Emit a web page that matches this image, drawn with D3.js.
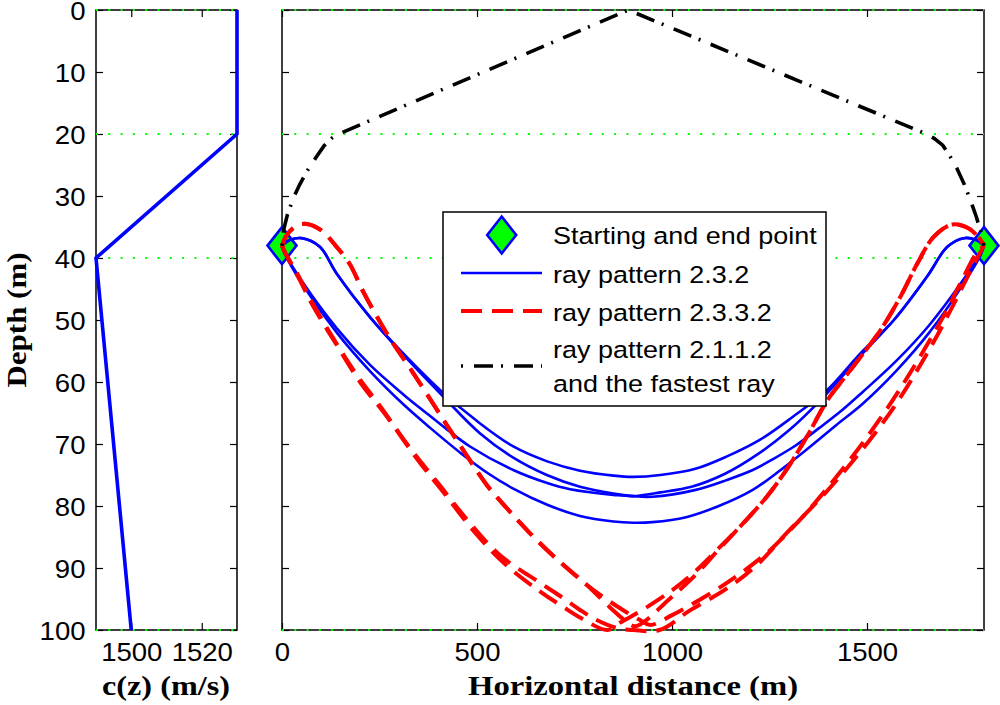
<!DOCTYPE html>
<html lang="en">
<head>
<meta charset="utf-8">
<title>Ray patterns</title>
<style>
  body { margin: 0; background: #fff; }
  svg { display: block; }
</style>
</head>
<body>
<svg id="chart" width="1000" height="705"></svg>
<script src="https://d3js.org/d3.v7.min.js"></script>
<script>

  // ---- data ----
  const depthTicks = [0, 10, 20, 30, 40, 50, 60, 70, 80, 90, 100];
  const speedTicks = [1500, 1520];
  const distTicks = [0, 500, 1000, 1500];
  const layerDepths = [0, 20, 40, 100];

  // sound speed profile c(z)
  const profileSpeed = [1530, 1530, 1490, 1500];
  const profileDepth = [0, 20, 40, 100];

  // source / receiver, [distance, depth]
  const endPoints = [[0, 38], [1800, 38]];

  // ray pattern 2.3.2 (blue, solid)
  const blueRays = [
    [[0,38],[20,37.1],[50,36.8],[97,38.2],[140,42.5],[225,49.5],[311,55.4],[414,61.8],[500,66.3],[593,70.4],[680,72.8],[764,74.3],[850,75.1],[900,75.3],[970,75.0],[1060,74.0],[1141,72.0],[1226,69.3],[1310,65.6],[1398,61.3],[1483,55.4],[1569,50.0],[1654,43.0],[1706,38.2],[1748,36.8],[1780,37.1],[1800,38]],
    [[0,38],[20,37.1],[50,36.8],[97,38.2],[140,42.5],[225,49.5],[311,55.6],[414,62.4],[508,68.3],[593,72.2],[679,75.0],[764,76.9],[850,78.0],[900,78.4],[950,78.5],[1061,77.4],[1141,75.8],[1207,74.2],[1260,72.4],[1318,70.2],[1378,67.4],[1435,64.6],[1489,61.6],[1575,56.6],[1660,50.8],[1746,43.6],[1793,39.0],[1800,38]],
    [[0,38],[7,39.2],[54,44.0],[140,51.3],[225,57.2],[311,62.0],[370,65.0],[422,67.6],[482,70.4],[593,74.2],[680,76.3],[739,77.3],[850,78.2],[900,78.4],[970,77.8],[1050,76.9],[1136,74.8],[1221,71.6],[1300,67.8],[1386,62.6],[1483,55.8],[1569,50.0],[1654,43.0],[1706,38.2],[1748,36.8],[1780,37.1],[1800,38]],
    [[0,38],[7,39.3],[54,44.4],[140,52.0],[225,58.2],[311,63.6],[380,67.4],[461,71.6],[530,74.8],[593,77.2],[680,79.8],[764,81.6],[850,82.5],[900,82.7],[950,82.6],[1036,81.8],[1120,80.0],[1207,77.4],[1270,74.6],[1339,71.2],[1420,67.0],[1489,63.5],[1575,58.2],[1660,52.0],[1746,44.3],[1793,39.3],[1800,38]]
  ];

  // ray pattern 2.3.3.2 (red, dashed)
  const redRays = [
    [[0,38],[12,36.3],[35,34.9],[63,34.5],[100,35.5],[140,38.2],[174,41.0],[208,45.4],[268,52.1],[337,58.6],[414,66.1],[470,71.5],[525,76.6],[580,80.6],[636,84.4],[700,88.3],[781,92.7],[840,96.3],[880,98.5],[905,99.4],[930,98.6],[990,95.2],[1056,91.4],[1120,87.0],[1175,83.3],[1243,78.5],[1295,74.0],[1346,68.8],[1398,63.0],[1440,59.5],[1483,56.0],[1535,51.6],[1586,46.2],[1629,40.9],[1671,36.6],[1718,34.6],[1760,35.2],[1788,36.8],[1800,38]],
    [[0,38],[12,36.3],[35,34.9],[63,34.5],[100,35.5],[140,38.2],[174,41.0],[208,45.4],[268,52.1],[337,58.6],[414,66.1],[470,71.5],[525,76.6],[580,80.6],[636,84.4],[700,88.3],[781,92.7],[867,96.5],[918,98.4],[944,99.2],[1000,97.6],[1106,93.8],[1175,90.9],[1250,87.2],[1312,83.3],[1365,79.6],[1415,75.8],[1475,71.0],[1535,65.8],[1586,61.0],[1637,55.8],[1697,49.3],[1740,44.0],[1783,39.0],[1800,38]],
    [[0,38],[10,39.4],[46,43.6],[80,47.8],[140,54.0],[200,60.0],[268,65.5],[345,72.3],[414,77.8],[499,84.6],[576,89.6],[662,93.8],[719,96.2],[770,98.2],[835,100],[870,98.7],[918,97.0],[1000,93.6],[1064,90.3],[1120,86.8],[1175,83.3],[1243,78.5],[1295,74.0],[1346,68.8],[1398,63.0],[1440,59.5],[1483,56.0],[1535,51.6],[1586,46.2],[1629,40.9],[1671,36.6],[1718,34.6],[1760,35.2],[1788,36.8],[1800,38]],
    [[0,38],[5,38.8],[40,42.6],[75,46.9],[130,52.8],[190,58.7],[255,64.2],[330,70.8],[400,76.3],[480,82.6],[560,88.0],[662,92.4],[720,94.8],[770,97.0],[807,98.4],[859,99.7],[901,100],[968,100],[1047,96.8],[1141,93.3],[1218,89.5],[1295,84.3],[1380,78.8],[1450,73.8],[1520,68.3],[1575,63.5],[1625,58.5],[1680,52.5],[1730,46.5],[1770,41.5],[1800,38]]
  ];

  // ray pattern 2.1.1.2, the fastest ray (black, dash-dot)
  const blackRay = [[0,38],[4,35.5],[14,33.0],[28,30.5],[45,28.2],[65,25.9],[87,23.8],[108,21.9],[127,20.7],[145,20],[888,0],[1652,20],[1672,20.7],[1694,21.8],[1712,23.5],[1731,25.6],[1750,28.2],[1766,30.8],[1780,33.3],[1792,35.8],[1800,38]];

  const legendLabels = [
    ["Starting and end point"],
    ["ray pattern 2.3.2"],
    ["ray pattern 2.3.3.2"],
    ["ray pattern 2.1.1.2", "and the fastest ray"]
  ];

  // ---- layout ----
  const plotTop = 10, plotBottom = 630;
  const sansFont = "'Liberation Sans', Arial, sans-serif";
  const serifFont = "'Liberation Serif', 'Times New Roman', serif";
  const redDash = "21,10";
  const blackDash = "2,11,19,8";

  const svg = d3.select("#chart");
  svg.append("rect").attr("width", 1000).attr("height", 705).attr("fill", "#fff");

  const y = d3.scaleLinear().domain([0, 100]).range([plotTop, plotBottom]);
  const xSpeed = d3.scaleLinear().domain([1490, 1530]).range([96, 237]);
  const xDist = d3.scaleLinear().domain([0, 1800]).range([282, 984]);

  // glyphs in the figure are a bit wider than the fonts we have
  function stretch(sel, k) {
    sel.each(function () {
      const w = this.getComputedTextLength();
      if (w > 0) d3.select(this).attr("textLength", w * k).attr("lengthAdjust", "spacingAndGlyphs");
    });
  }

  function styleAxis(g) {
    g.select(".domain").remove();
    g.selectAll("line").attr("stroke", "#000").attr("stroke-width", 1.2);
    g.attr("font-family", sansFont).attr("font-size", 25.5);
    g.selectAll("text").attr("fill", "#000");
  }

  function panel(xScale, xTicks, yLabels) {
    const [x0, x1] = xScale.range();
    const g = svg.append("g");

    g.append("g").attr("transform", `translate(${x0},0)`)
      .call(d3.axisLeft(y).tickValues(depthTicks).tickSizeInner(-7).tickSizeOuter(0)
        .tickPadding(10.5).tickFormat(yLabels ? d3.format("d") : ""))
      .call(styleAxis)
      .selectAll("text").attr("dy", "0.39em");
    g.append("g").attr("transform", `translate(${x1},0)`)
      .call(d3.axisRight(y).tickValues(depthTicks).tickSizeInner(-7).tickSizeOuter(0).tickFormat(""))
      .call(styleAxis);
    g.append("g").attr("transform", `translate(0,${plotBottom})`)
      .call(d3.axisBottom(xScale).tickValues(xTicks).tickSizeInner(-7).tickSizeOuter(0)
        .tickPadding(13).tickFormat(d3.format("d")))
      .call(styleAxis);
    g.append("g").attr("transform", `translate(0,${plotTop})`)
      .call(d3.axisTop(xScale).tickValues(xTicks).tickSizeInner(-7).tickSizeOuter(0).tickFormat(""))
      .call(styleAxis);

    g.append("rect")
      .attr("x", x0).attr("y", plotTop)
      .attr("width", x1 - x0).attr("height", plotBottom - plotTop)
      .attr("fill", "none").attr("stroke", "#000").attr("stroke-width", 1.5);

    // layer boundaries
    g.selectAll(".layer").data(layerDepths).join("line")
      .attr("class", "layer")
      .attr("x1", x0).attr("x2", x1)
      .attr("y1", d => y(d)).attr("y2", d => y(d))
      .attr("stroke", "#00ff00").attr("stroke-width", 2.2)
      .attr("stroke-dasharray", "2,10.3");

    stretch(g.selectAll("text"), 1.08);
    return g;
  }

  // ---- left panel: sound speed profile ----
  const left = panel(xSpeed, speedTicks, true);
  left.append("path")
    .datum(d3.zip(profileSpeed, profileDepth))
    .attr("d", d3.line().x(d => xSpeed(d[0])).y(d => y(d[1])))
    .attr("fill", "none").attr("stroke", "#0000ff").attr("stroke-width", 3.6);

  // ---- right panel: rays ----
  const right = panel(xDist, distTicks, false);

  const diamond = (cx, cy) => `M${cx},${cy - 18.5}L${cx + 14.5},${cy}L${cx},${cy + 18.5}L${cx - 14.5},${cy}Z`;

  right.selectAll(".pt").data(endPoints).join("path")
    .attr("class", "pt")
    .attr("d", d => diamond(xDist(d[0]), y(d[1])))
    .attr("fill", "#00ff00").attr("stroke", "#0000ff").attr("stroke-width", 2.6);

  const smooth = d3.line().x(d => xDist(d[0])).y(d => y(d[1])).curve(d3.curveCatmullRom.alpha(0.5));
  const straight = d3.line().x(d => xDist(d[0])).y(d => y(d[1]));

  right.selectAll(".blue").data(blueRays).join("path")
    .attr("class", "blue")
    .attr("d", smooth)
    .attr("fill", "none").attr("stroke", "#0000ff").attr("stroke-width", 2.6);

  right.selectAll(".red").data(redRays).join("path")
    .attr("class", "red")
    .attr("d", smooth)
    .attr("fill", "none").attr("stroke", "#ff0000").attr("stroke-width", 4)
    .attr("stroke-dasharray", redDash);

  right.append("path")
    .datum(blackRay)
    .attr("d", straight)
    .attr("fill", "none").attr("stroke", "#000").attr("stroke-width", 3.6)
    .attr("stroke-dasharray", blackDash);

  // ---- legend ----
  const leg = svg.append("g");
  leg.append("rect")
    .attr("x", 443).attr("y", 212).attr("width", 383).attr("height", 194)
    .attr("fill", "#fff").attr("stroke", "#000").attr("stroke-width", 1.5);

  const sampleY = [235, 273, 311, 366];
  const textY = [[244], [283], [321], [358, 392]];
  leg.append("path")
    .attr("d", diamond(501.7, sampleY[0]))
    .attr("fill", "#00ff00").attr("stroke", "#0000ff").attr("stroke-width", 2.6);
  leg.append("line").attr("x1", 461).attr("x2", 542).attr("y1", sampleY[1]).attr("y2", sampleY[1])
    .attr("stroke", "#0000ff").attr("stroke-width", 2.6);
  leg.append("line").attr("x1", 461).attr("x2", 542).attr("y1", sampleY[2]).attr("y2", sampleY[2])
    .attr("stroke", "#ff0000").attr("stroke-width", 4).attr("stroke-dasharray", redDash);
  leg.append("line").attr("x1", 461).attr("x2", 542).attr("y1", sampleY[3]).attr("y2", sampleY[3])
    .attr("stroke", "#000").attr("stroke-width", 3.6).attr("stroke-dasharray", blackDash);

  legendLabels.forEach((lines, i) => {
    lines.forEach((t, j) => {
      leg.append("text")
        .attr("x", 553).attr("y", textY[i][j])
        .attr("font-family", sansFont).attr("font-size", 24.5)
        .attr("fill", "#000")
        .text(t);
    });
  });
  stretch(leg.selectAll("text"), 1.1);

  // ---- axis titles ----
  const titles = svg.append("g")
    .attr("font-family", serifFont).attr("font-weight", "bold").attr("font-size", 28)
    .attr("fill", "#000").attr("text-anchor", "middle");
  titles.append("text").attr("x", 633).attr("y", 695)
    .attr("textLength", 330).attr("lengthAdjust", "spacingAndGlyphs")
    .text("Horizontal distance (m)");
  titles.append("text").attr("x", 166).attr("y", 695)
    .attr("textLength", 128).attr("lengthAdjust", "spacingAndGlyphs")
    .text("c(z) (m/s)");
  titles.append("text").attr("transform", "translate(26,320) rotate(-90)")
    .attr("textLength", 135).attr("lengthAdjust", "spacingAndGlyphs")
    .text("Depth (m)");

</script>
</body>
</html>
